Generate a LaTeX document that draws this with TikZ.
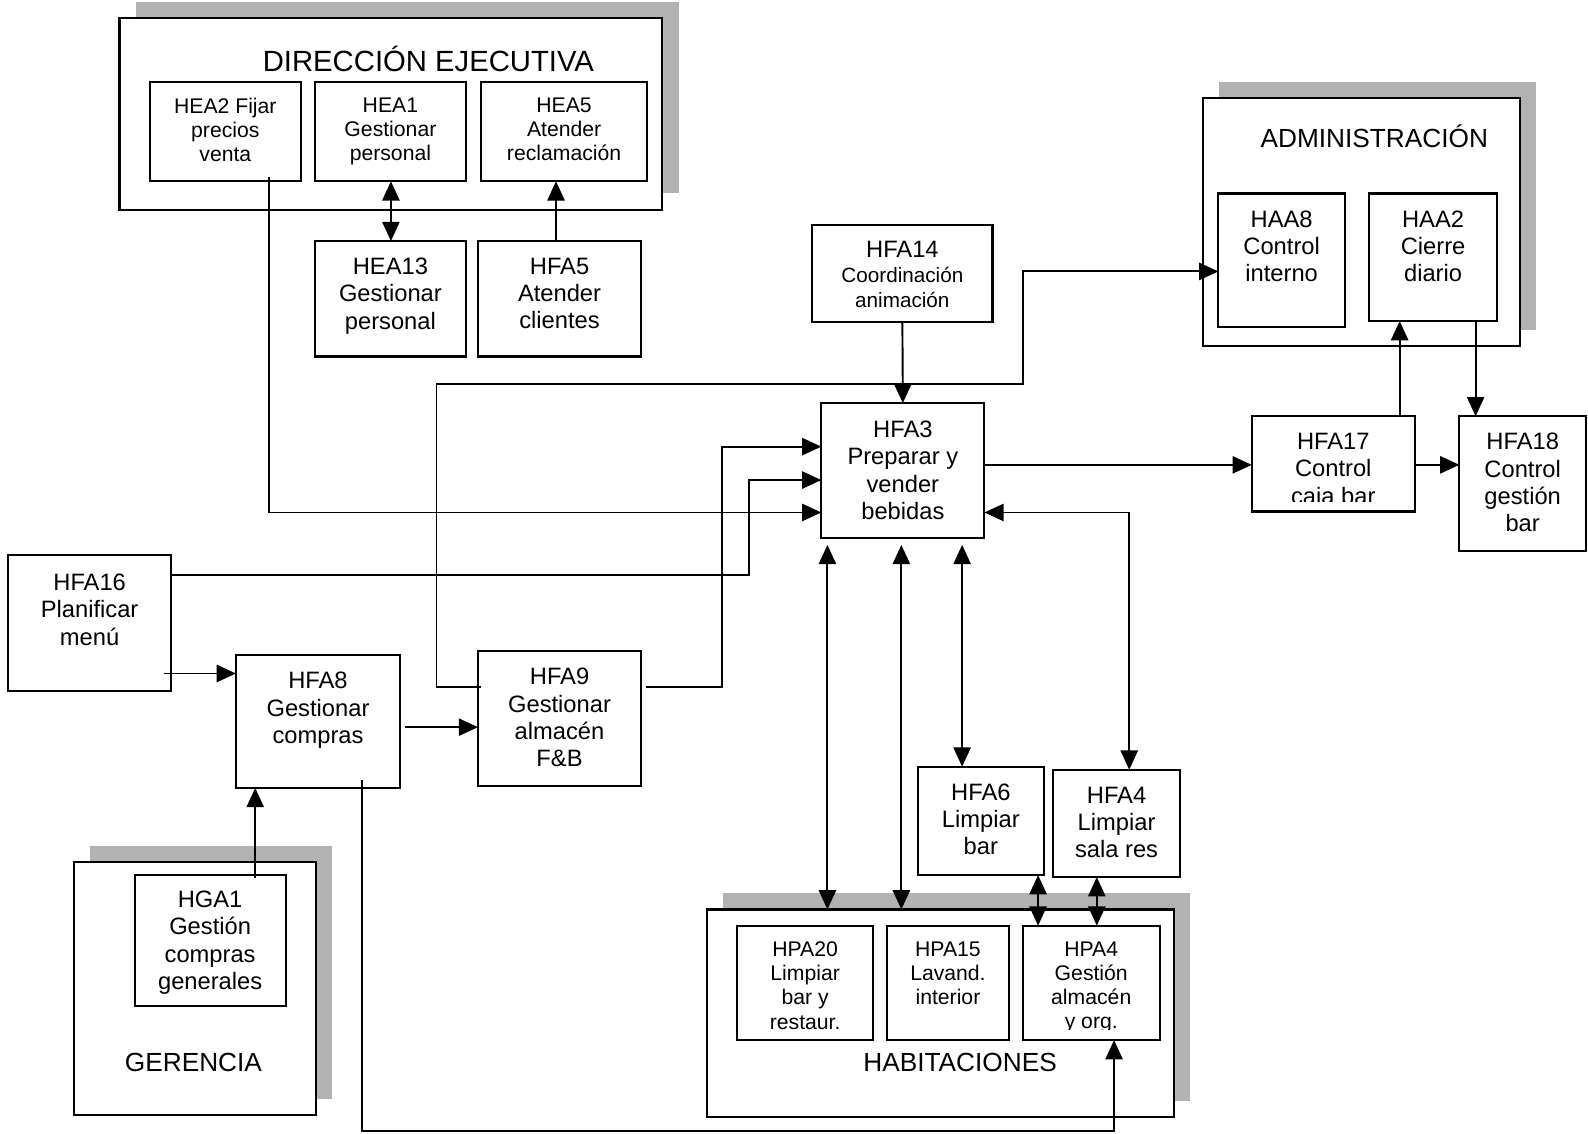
\documentclass[tikz,border=0pt]{standalone}
\usepackage{fontspec}
\setmainfont{Liberation Sans}
\usetikzlibrary{arrows.meta,calc,fit,shadows}
\definecolor{shadowgray}{RGB}{178,178,178}
\begin{document}
\begin{tikzpicture}[x=1bp,y=-1bp,
  frame/.style={draw, line width=2.1bp, fill=white, inner sep=0pt, outer sep=0pt,
    general shadow={fill=shadowgray, shadow xshift=16bp, shadow yshift=16bp}},
  box/.style={draw, line width=2.1bp, fill=white, inner sep=0pt, outer sep=0pt},
  lbl/.style={align=center, inner sep=0pt, anchor=north, font=\fontsize{23.5}{27}\selectfont},
  lbls/.style={align=center, inner sep=0pt, anchor=north, font=\fontsize{21}{24}\selectfont},
  head/.style={anchor=base, inner sep=0pt, font=\fontsize{26}{30}\selectfont},
  link/.style={line width=1.9bp},
  arr/.style={link, -{Triangle[length=19bp,width=17bp]}},
  dbl/.style={link, {Triangle[length=19bp,width=17bp]}-{Triangle[length=19bp,width=17bp]}},
]
\useasboundingbox (0,0) rectangle (1568,1119);

% ---------- Dirección ejecutiva ----------
\node[frame, fit={(118,18) (654,207)}] (dir) {};
\node[head, font=\fontsize{29}{33}\selectfont] (dir-t) at (423,71) {DIRECCIÓN EJECUTIVA};
\node[box, fit={(148,81) (297,179)}] (hea2) {};
\node[lbls] (hea2-t) at (hea2.north |- 0,96.5) {HEA2 Fijar\\precios\\venta};
\node[box, fit={(311,81) (460,179)}] (hea1) {};
\node[lbls] (hea1-t) at (hea1.north |- 0,96.5) {HEA1\\Gestionar\\personal};
\node[box, fit={(475,81) (639,179)}] (hea5) {};
\node[lbls] (hea5-t) at (hea5.north |- 0,96.5) {HEA5\\Atender\\reclamación};

\node[box, fit={(311,238) (460,352)}] (hea13) {};
\node[lbl] (hea13-t) at (hea13.north |- 0,254.6) {HEA13\\Gestionar\\personal};
\node[box, fit={(472,238) (633,352)}] (hfa5) {};
\node[lbl] (hfa5-t) at (hfa5.north |- 0,254.6) {HFA5\\Atender\\clientes};

% ---------- Administración ----------
\node[frame, fit={(1188,97) (1501,342)}] (adm) {};
\node[head] (adm-t) at (1357,146) {ADMINISTRACIÓN};
\node[box, fit={(1203,191) (1328,323)}] (haa8) {};
\node[lbl] (haa8-t) at (haa8.north |- 0,207.6) {HAA8\\Control\\interno};
\node[box, fit={(1352,191) (1478,317)}] (haa2) {};
\node[lbl] (haa2-t) at (haa2.north |- 0,207.6) {HAA2\\Cierre\\diario};

\node[box, fit={(1236,411) (1397,505)}] (hfa17) {};
\begin{scope}
  \clip (hfa17.north west) rectangle ($(hfa17.south east)+(0,-10)$);
  \node[lbl] (hfa17-t) at (hfa17.north |- 0,427.6) {HFA17\\Control\\caja bar};
\end{scope}
\node[box, fit={(1441,411) (1566,544)}] (hfa18) {};
\node[lbl] (hfa18-t) at (hfa18.north |- 0,427.6) {HFA18\\Control\\gestión\\bar};

% ---------- Central processes ----------
\node[box, fit={(802,222) (980,318)}] (hfa14) {};
\node[lbl, font=\fontsize{20.5}{25}\selectfont] (hfa14-t) at (hfa14.north |- 0,237.6)
  {{\fontsize{23.5}{25}\selectfont HFA14}\\Coordinación\\animación};
\node[box, fit={(811,398) (972,531)}] (hfa3) {};
\node[lbl] (hfa3-t) at (hfa3.north |- 0,415.6) {HFA3\\Preparar y\\vender\\bebidas};

\node[box, fit={(8,548) (169,682)}] (hfa16) {};
\node[lbl] (hfa16-t) at (hfa16.north |- 0,566.6) {HFA16\\Planificar\\menú};
\node[box, fit={(233,647) (395,778)}] (hfa8) {};
\node[lbl] (hfa8-t) at (hfa8.north |- 0,663.6) {HFA8\\Gestionar\\compras};
\node[box, fit={(472,643) (633,776)}] (hfa9) {};
\node[lbl] (hfa9-t) at (hfa9.north |- 0,659.6) {HFA9\\Gestionar\\almacén\\F\&B};

\node[box, fit={(906,757) (1031,864)}] (hfa6) {};
\node[lbl] (hfa6-t) at (hfa6.north |- 0,773.6) {HFA6\\Limpiar\\bar};
\node[box, fit={(1040,760) (1165,866)}] (hfa4) {};
\node[lbl] (hfa4-t) at (hfa4.north |- 0,776.6) {HFA4\\Limpiar\\sala res};

% ---------- Gerencia ----------
\node[frame, fit={(73,851) (312,1101)}] (ger) {};
\node[head] (ger-t) at (191,1058) {GERENCIA};
\node[box, fit={(133,864) (282,993)}] (hga1) {};
\node[lbl] (hga1-t) at (hga1.north |- 0,879.6) {HGA1\\Gestión\\compras\\generales};

% ---------- Habitaciones ----------
\node[frame, fit={(698,898) (1159,1103)}] (hab) {};
\node[head] (hab-t) at (948,1058) {HABITACIONES};
\node[box, fit={(728,914) (862,1027)}] (hpa20) {};
\node[lbls] (hpa20-t) at (hpa20.north |- 0,929.5) {HPA20\\Limpiar\\bar y\\restaur.};
\node[box, fit={(876,914) (996,1027)}] (hpa15) {};
\node[lbls] (hpa15-t) at (hpa15.north |- 0,929.5) {HPA15\\Lavand.\\interior};
\node[box, fit={(1010,914) (1145,1027)}] (hpa4) {};
\begin{scope}
  \clip (hpa4.north west) rectangle ($(hpa4.south east)+(0,-10)$);
  \node[lbls] (hpa4-t) at (hpa4.north |- 0,929.5) {HPA4\\Gestión\\almacén\\y org.};
\end{scope}

% ---------- Connectors ----------
\draw[dbl] (hea1.south -| 386,0) -- (hea13.north -| 386,0);
\draw[arr] (hfa5.north -| 549,0) -- (hea5.south -| 549,0);
\draw[arr] ($(hea2.south -| 266,0)+(0,-4)$) |- (hfa3.west |- 0,506);
\draw[arr] ($(hfa9.west |- 0,678)+(3,0)$) -- (431,678) -- (431,379) -- (1010,379)
  -- (1010,268) -- (haa8.west |- 0,268);
\draw[arr] (hfa14.south) -- (hfa3.north);
\draw[arr] ($(hfa9.east |- 0,678)+(5,0)$) -| (713,441) -- (hfa3.west |- 0,441);
\draw[arr] (hfa16.east |- 0,568) -| (740,474) -- (hfa3.west |- 0,474);
\draw[arr] ($(hfa16.east |- 0,665)+(-7,0)$) -- (hfa8.west |- 0,665);
\draw[arr] ($(hfa8.east |- 0,718)+(5,0)$) -- (hfa9.west |- 0,718);
\draw[arr] ($(hga1.north -| 252,0)+(0,3)$) -- (hfa8.south -| 252,0);
\draw[arr] ($(hfa8.south -| 357,0)+(0,-8)$) |- (1100,1117) -- (hpa4.south -| 1100,0);
\draw[arr] (hfa3.east |- 0,459) -- (hfa17.west |- 0,459);
\draw[arr] (hfa17.east |- 0,459) -- (hfa18.west |- 0,459);
\draw[arr] (hfa17.north -| 1382,0) -- (haa2.south -| 1382,0);
\draw[arr] (haa2.south -| 1457,0) -- (hfa18.north -| 1457,0);
\draw[dbl] (hfa3.east |- 0,506) -| (hfa4.north -| 1115,0);
\draw[dbl] ($(hfa3.south -| 950,0)+(0,7)$) -- (hfa6.north -| 950,0);
\draw[dbl] ($(hfa3.south -| 817,0)+(0,7)$) -- (hab.north -| 817,0);
\draw[dbl] ($(hfa3.south -| 890,0)+(0,7)$) -- (hab.north -| 890,0);
\draw[dbl] (hfa6.south -| 1025,0) -- (hpa4.north -| 1025,0);
\draw[dbl] (hfa4.south -| 1083,0) -- (hpa4.north -| 1083,0);
\end{tikzpicture}
\end{document}
